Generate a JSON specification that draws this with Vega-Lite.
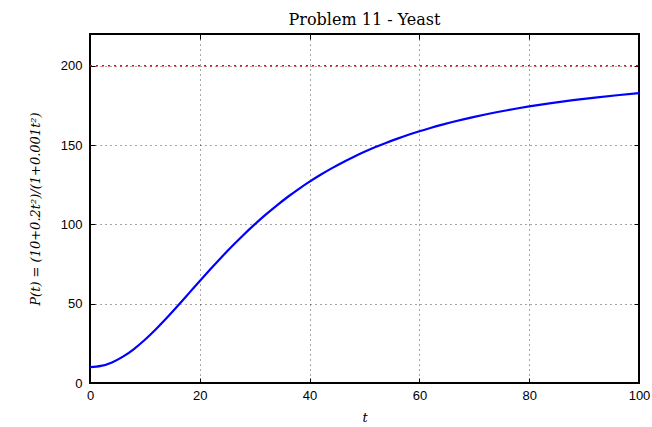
{
  "$schema": "https://vega.github.io/schema/vega-lite/v6.json",
  "autosize": "none",
  "width": 549,
  "height": 349,
  "padding": {"left": 90, "top": 34, "right": 13, "bottom": 44},
  "background": "white",
  "title": {"text": "Problem 11 - Yeast", "font": "DejaVu Serif", "fontSize": 16, "fontWeight": "normal", "color": "black", "offset": 6},
  "config": {
    "view": {"stroke": "black", "strokeWidth": 2},
    "axis": {
      "domain": false,
      "grid": true,
      "gridColor": "black",
      "gridDash": [1, 4],
      "gridOpacity": 0.7,
      "gridWidth": 1,
      "tickColor": "black",
      "tickSize": -5,
      "tickWidth": 1,
      "labelFont": "Liberation Sans",
      "labelFontSize": 13,
      "labelColor": "black",
      "labelFlush": false,
      "labelOverlap": false,
      "titleColor": "black",
      "titleFontWeight": "normal"
    }
  },
  "resolve": {"axis": {"x": "independent", "y": "independent"}},
  "datasets": {
    "curve": [
      {"t": 0, "P": 10}, {"t": 2, "P": 10.757}, {"t": 4, "P": 12.992}, {"t": 6, "P": 16.602},
      {"t": 8, "P": 21.429}, {"t": 10, "P": 27.273}, {"t": 12, "P": 33.916}, {"t": 14, "P": 41.137},
      {"t": 16, "P": 48.726}, {"t": 18, "P": 56.495}, {"t": 20, "P": 64.286}, {"t": 22, "P": 71.968},
      {"t": 24, "P": 79.442}, {"t": 26, "P": 86.635}, {"t": 28, "P": 93.498}, {"t": 30, "P": 100},
      {"t": 32, "P": 106.126}, {"t": 34, "P": 111.874}, {"t": 36, "P": 117.247}, {"t": 38, "P": 122.258},
      {"t": 40, "P": 126.923}, {"t": 42, "P": 131.259}, {"t": 44, "P": 135.286}, {"t": 46, "P": 139.024},
      {"t": 48, "P": 142.494}, {"t": 50, "P": 145.714}, {"t": 52, "P": 148.704}, {"t": 54, "P": 151.481},
      {"t": 56, "P": 154.062}, {"t": 58, "P": 156.462}, {"t": 60, "P": 158.696}, {"t": 62, "P": 160.776},
      {"t": 64, "P": 162.716}, {"t": 66, "P": 164.526}, {"t": 68, "P": 166.216}, {"t": 70, "P": 167.797},
      {"t": 72, "P": 169.276}, {"t": 74, "P": 170.661}, {"t": 76, "P": 171.96}, {"t": 78, "P": 173.18},
      {"t": 80, "P": 174.324}, {"t": 84, "P": 176.415}, {"t": 88, "P": 178.271}, {"t": 92, "P": 179.924},
      {"t": 96, "P": 181.402}, {"t": 100, "P": 182.727}
    ],
    "limit": [{"t0": 0, "t1": 100, "P": 200}]
  },
  "layer": [
    {
      "data": {"name": "curve"},
      "mark": {"type": "line", "color": "#0000ff", "strokeWidth": 2.2, "interpolate": "monotone", "clip": true},
      "encoding": {
        "x": {"field": "t", "type": "quantitative", "scale": {"domain": [0, 100], "nice": false},
          "axis": {"values": [0, 20, 40, 60, 80, 100], "title": "t", "titleFont": "DejaVu Serif", "titleFontStyle": "italic", "titleFontSize": 13, "titlePadding": 9, "labelPadding": 11}},
        "y": {"field": "P", "type": "quantitative", "scale": {"domain": [0, 220], "nice": false},
          "axis": {"values": [0, 50, 100, 150, 200], "title": "P(t) = (10+0.2t²)/(1+0.001t²)", "titleFont": "DejaVu Serif", "titleFontStyle": "italic", "titleFontSize": 13, "titlePadding": 18, "labelPadding": 13}}
      }
    },
    {
      "data": {"name": "limit"},
      "mark": {"type": "rule", "color": "#ff0000", "strokeWidth": 1.3, "strokeDash": [2, 4]},
      "encoding": {
        "x": {"field": "t0", "type": "quantitative",
          "axis": {"orient": "top", "values": [0, 20, 40, 60, 80, 100], "labels": false, "title": null, "grid": false}},
        "x2": {"field": "t1"},
        "y": {"field": "P", "type": "quantitative",
          "axis": {"orient": "right", "values": [0, 50, 100, 150, 200], "labels": false, "title": null, "grid": false}}
      }
    }
  ]
}
